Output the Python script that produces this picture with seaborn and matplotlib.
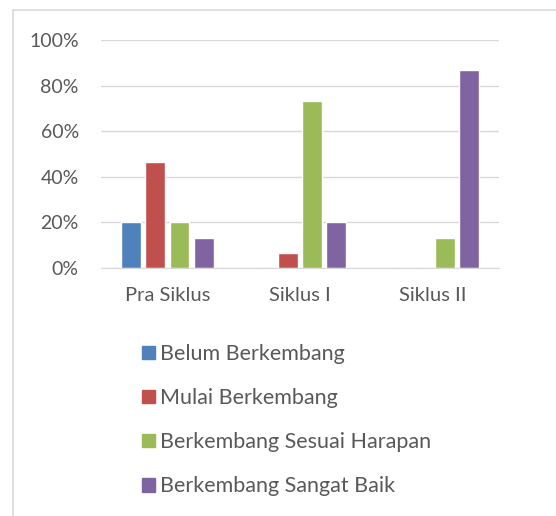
import numpy as np
import pandas as pd
import matplotlib
matplotlib.use("Agg")
import matplotlib.pyplot as plt
import matplotlib.patches as mpatches
from matplotlib.ticker import PercentFormatter
import seaborn as sns

# data
siklus = ["Pra Siklus", "Siklus I", "Siklus II"]
kategori = ["Belum Berkembang", "Mulai Berkembang",
            "Berkembang Sesuai Harapan", "Berkembang Sangat Baik"]
belum = [0.20, 0.0, 0.0]
mulai = [0.467, 0.067, 0.0]
sesuai = [0.20, 0.733, 0.133]
sangat = [0.133, 0.20, 0.867]
warna = ["#4F81BD", "#C0504D", "#9BBB59", "#8064A2"]

df = pd.DataFrame({"Siklus": siklus, kategori[0]: belum, kategori[1]: mulai,
                   kategori[2]: sesuai, kategori[3]: sangat})
df = df.melt(id_vars="Siklus", var_name="Kategori", value_name="Nilai")

sns.set_style("white")
plt.rcParams["font.family"] = ["Lato", "DejaVu Sans"]
teks = "#595959"

fig = plt.figure(figsize=(5.56, 5.16), dpi=100)
ax = fig.add_axes([0.1817, 0.4806, 0.7158, 0.4419])

sns.barplot(data=df, x="Siklus", y="Nilai", hue="Kategori", hue_order=kategori,
            palette=warna, width=0.73, gap=0.18, ax=ax, legend=False,
            saturation=1)

ax.set_ylim(0, 1)
ax.set_xlim(-0.5, 2.5)
ax.set_yticks(np.arange(0, 1.01, 0.2))
ax.yaxis.set_major_formatter(PercentFormatter(1.0, decimals=0))
ax.grid(axis="y", color="#D9D9D9", linewidth=1)
ax.set_axisbelow(True)
for s in ["top", "right", "left"]:
    ax.spines[s].set_visible(False)
ax.spines["bottom"].set_color("#D9D9D9")
ax.set_xlabel("")
ax.set_ylabel("")
ax.tick_params(axis="y", length=0, labelsize=14, colors=teks, pad=16)
ax.tick_params(axis="x", length=0, labelsize=14.5, colors=teks, pad=14)

handles = [mpatches.Patch(color=c) for c in warna]
leg = fig.legend(handles, kategori, loc="upper left", bbox_to_anchor=(0.24, 0.35),
                 frameon=False, fontsize=15.5, handlelength=0.6, handleheight=0.6,
                 handletextpad=0.25, labelspacing=1.12, borderaxespad=0)
for t in leg.get_texts():
    t.set_color(teks)

# outer chart border
fig.add_artist(mpatches.Rectangle((13 / 556, -0.05), 1.0, 1 - 10 / 516 + 0.05,
                                  transform=fig.transFigure, fill=False,
                                  edgecolor="#D9D9D9", linewidth=1.2))

fig.savefig("out.png", dpi=100)
